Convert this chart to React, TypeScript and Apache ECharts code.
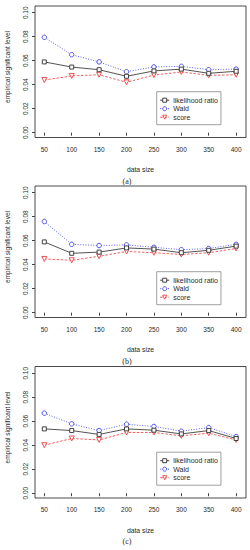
import React, { useEffect, useRef } from "react";
import * as echarts from "echarts";

const dataSizes = [50, 100, 150, 200, 250, 300, 350, 400];
const yTicks = [0, 0.02, 0.04, 0.06, 0.08, 0.1];
const panelLabels = ["(a)", "(b)", "(c)"];
const seriesNames = ["likelihood ratio", "Wald", "score"];

const lrA = [0.059, 0.0547, 0.0525, 0.047, 0.0515, 0.053, 0.0495, 0.0512];
const waldA = [0.0795, 0.065, 0.059, 0.0508, 0.0548, 0.0553, 0.0525, 0.053];
const scoreA = [0.0439, 0.0473, 0.0483, 0.042, 0.048, 0.0506, 0.0478, 0.0483];

const lrB = [0.059, 0.0495, 0.0505, 0.054, 0.053, 0.05, 0.052, 0.0555];
const waldB = [0.076, 0.057, 0.056, 0.0565, 0.0545, 0.0525, 0.0535, 0.057];
const scoreB = [0.0448, 0.0437, 0.047, 0.051, 0.05, 0.0485, 0.05, 0.0535];

const lrC = [0.0536, 0.0522, 0.049, 0.0536, 0.0525, 0.0494, 0.0522, 0.0456];
const waldC = [0.0667, 0.0578, 0.0522, 0.0575, 0.0556, 0.0517, 0.0547, 0.0472];
const scoreC = [0.04, 0.0456, 0.0444, 0.0506, 0.0506, 0.0478, 0.05, 0.0444];

const panels = [
  [lrA, waldA, scoreA],
  [lrB, waldB, scoreB],
  [lrC, waldC, scoreC],
];

const FONT = "'Liberation Sans', Arial, sans-serif";
const TEXT = "#2a2a2a";
const COLORS = ["#404040", "#5050ea", "#ee5050"];

export default function App() {
  const ref = useRef<HTMLDivElement>(null);
  useEffect(() => {
    if (!ref.current) return;
    const chart = echarts.init(ref.current, undefined, { renderer: "svg" });
    const tops = [6, 186, 366.5];
    const left = 35;
    const width = 211;
    const height = 131.5;

    const grids = tops.map((t) => ({
      left,
      top: t,
      width,
      height,
      show: true,
      borderColor: "#4a4a4a",
      borderWidth: 1,
      backgroundColor: "transparent",
      containLabel: false,
    }));

    const xAxes = tops.map((_, i) => ({
      type: "value",
      gridIndex: i,
      min: 33,
      max: 418,
      axisLine: { show: false },
      splitLine: { show: false },
      axisTick: {
        show: true,
        customValues: dataSizes,
        length: 3,
        lineStyle: { color: "#444", width: 1 },
      },
      axisLabel: {
        customValues: dataSizes,
        fontSize: 6.5,
        fontFamily: FONT,
        color: TEXT,
        margin: 8,
      },
      name: "data size",
      nameLocation: "middle",
      nameGap: 28.5,
      nameTextStyle: { fontSize: 6.8, fontFamily: FONT, color: TEXT },
    }));

    const yAxes = tops.map((_, i) => ({
      type: "value",
      gridIndex: i,
      min: -0.004,
      max: 0.1056,
      axisLine: { show: false },
      splitLine: { show: false },
      axisTick: {
        show: true,
        customValues: yTicks,
        length: 3,
        lineStyle: { color: "#444", width: 1 },
      },
      axisLabel: {
        customValues: yTicks,
        rotate: 90,
        fontSize: 6.5,
        fontFamily: FONT,
        color: TEXT,
        margin: 6.5,
        formatter: (v: number) => v.toFixed(2),
      },
    }));

    const series: any[] = [];
    panels.forEach((p, i) => {
      p.forEach((vals, k) => {
        series.push({
          type: "line",
          name: seriesNames[k],
          xAxisIndex: i,
          yAxisIndex: i,
          data: dataSizes.map((x, j) => [x, vals[j]]),
          color: COLORS[k],
          lineStyle: {
            width: 0.9,
            color: COLORS[k],
            type: k === 0 ? "solid" : k === 1 ? [1, 1.6] : [2.5, 1.6],
          },
          itemStyle: { color: "#ffffff", borderColor: COLORS[k], borderWidth: 1 },
          symbolSize: k === 0 ? 4 : k === 1 ? 4.5 : 5,
          symbol: k === 0 ? "rect" : k === 1 ? "circle" : "triangle",
          symbolRotate: k === 2 ? 180 : 0,
          z: 3 - k,
        });
      });
    });

    const legends = tops.map((t) => ({
      orient: "vertical",
      left: 156.7,
      top: t + 85.7,
      data: seriesNames,
      itemWidth: 9,
      itemHeight: 5,
      itemGap: 1.5,
      padding: [5, 3, 4, 3],
      borderColor: "#888",
      borderWidth: 0.8,
      selectedMode: false,
      itemStyle: { color: "#ffffff", borderWidth: 1 },
      lineStyle: { width: 1 },
      textStyle: {
        fontSize: 7,
        fontFamily: FONT,
        color: TEXT,
        lineHeight: 7,
        padding: [0, 0, 0, -1],
      },
    }));

    const titles = tops.map((t, i) => ({
      text: panelLabels[i],
      left: 127,
      top: t + 171,
      textAlign: "center",
      padding: 0,
      textStyle: {
        fontSize: 8,
        fontWeight: "normal",
        fontFamily: "'Liberation Serif', 'Times New Roman', serif",
        color: TEXT,
      },
    }));

    const graphics = tops.map((t) => ({
      type: "text",
      x: 7,
      y: t + 61,
      rotation: Math.PI / 2,
      style: {
        text: "empirical significant level",
        fontSize: 6.5,
        fontFamily: FONT,
        fill: TEXT,
        align: "center",
        verticalAlign: "middle",
      },
    }));

    chart.setOption({
      animation: false,
      backgroundColor: "#ffffff",
      grid: grids,
      xAxis: xAxes,
      yAxis: yAxes,
      series,
      legend: legends,
      title: titles,
      graphic: graphics,
    } as any);
    return () => chart.dispose();
  }, []);
  return (
    <div
      ref={ref}
      style={{ position: "absolute", left: 0, top: 0, width: 250, height: 550 }}
    />
  );
}
